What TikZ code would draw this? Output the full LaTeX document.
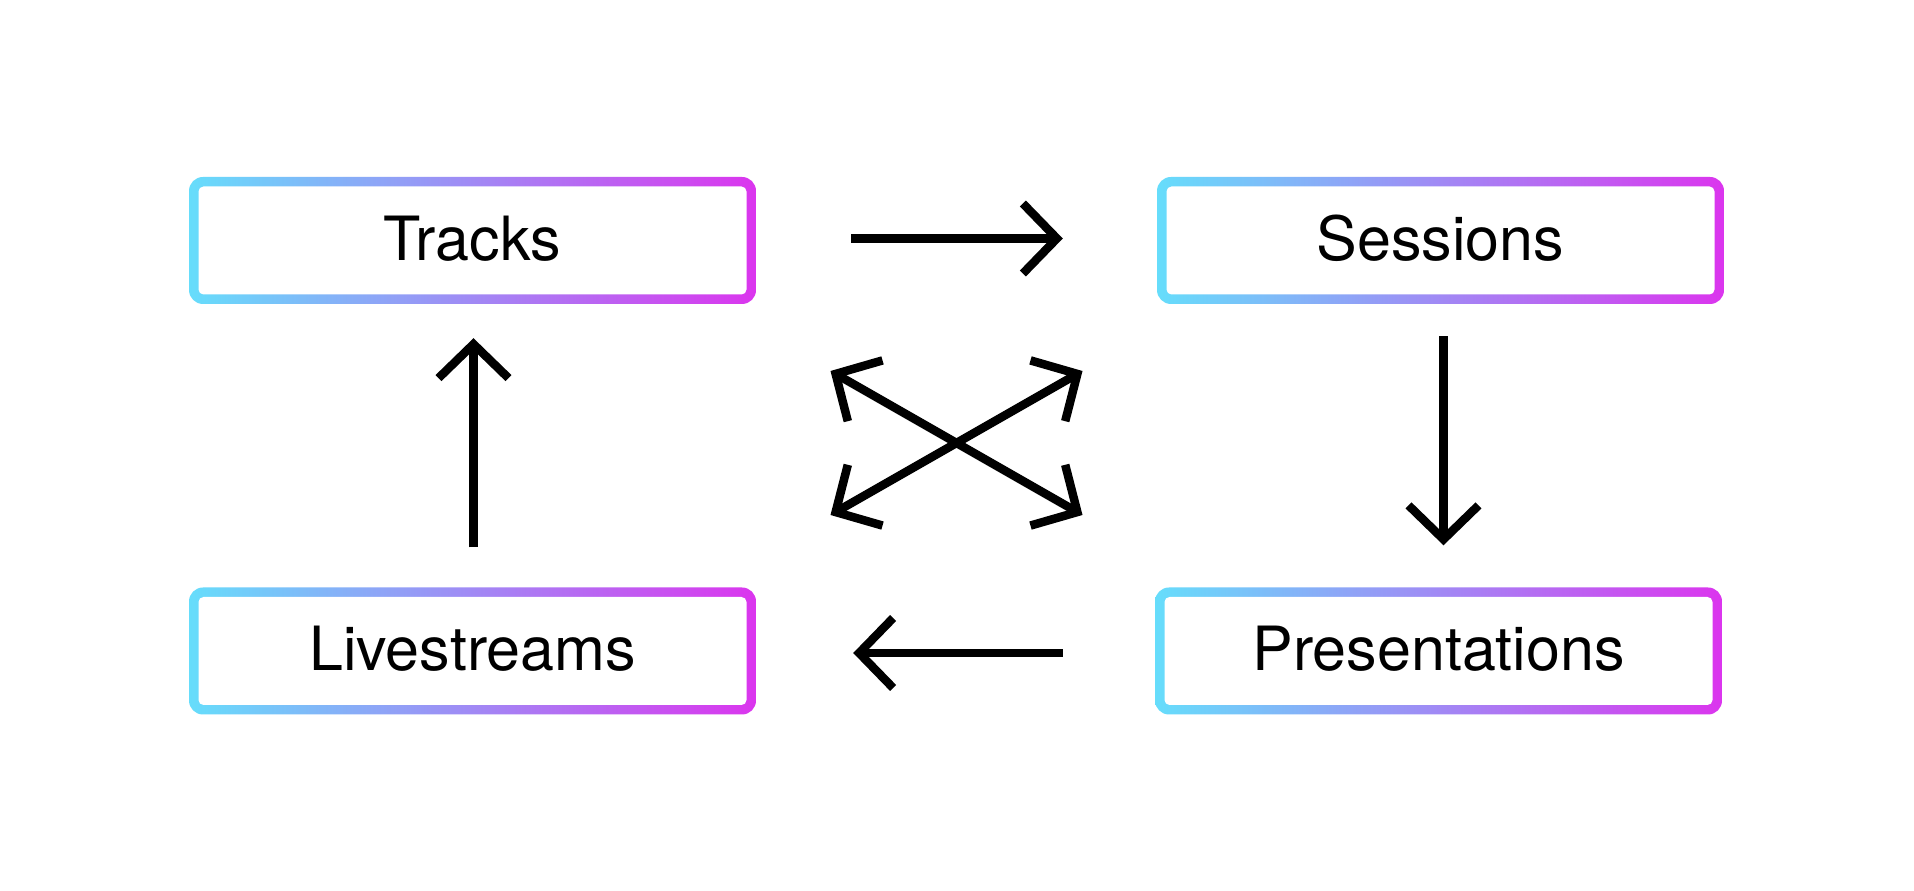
\documentclass[tikz,border=0pt]{standalone}
\usepackage{fontspec}
\setmainfont{TeX Gyre Heros}
\usetikzlibrary{arrows.meta}
\definecolor{cy}{RGB}{102,221,251}
\definecolor{mg}{RGB}{219,53,238}
\tikzset{
  box/.style={rounded corners=14pt, minimum width=567pt, minimum height=127pt,
    inner sep=0pt, left color=cy, right color=mg,
    text height=40pt, text depth=0pt,
    font=\fontsize{61}{70}\selectfont,
    path picture={\fill[white, rounded corners=5pt]
      ([shift={(9.5pt,9.5pt)}]path picture bounding box.south west) rectangle
      ([shift={(-9.5pt,-9.5pt)}]path picture bounding box.north east);}},
  tipb/.tip={Straight Barb[length=34pt, width=70pt]},
  arr/.style={line width=8.5pt, -tipb},
  darr/.style={line width=8.5pt, tipb-tipb}
}
\begin{document}
\begin{tikzpicture}[x=1pt,y=1pt]
\useasboundingbox[fill=white] (0,0) rectangle (1914,891);
\node[box] (T) at (472.5,650.5) {Tracks};
\node[box] (S) at (1440.5,650.5) {Sessions};
\node[box] (L) at (472.5,240) {Livestreams};
\node[box] (P) at (1438.5,240) {Presentations};
\draw[arr] ([xshift=95pt,yshift=2pt]T.east) -- ([xshift=-94pt,yshift=2pt]S.west);
\draw[arr] ([xshift=3pt,yshift=-32pt]S.south) -- ([xshift=3pt,yshift=42pt]S.south |- P.north);
\draw[arr] ([xshift=-92pt,yshift=-2pt]P.west) -- ([xshift=97pt,yshift=-2pt]L.east);
\draw[arr] ([xshift=1pt,yshift=40pt]L.north) -- ([xshift=1pt,yshift=-34pt]T.south);
\coordinate (X) at (956.5,448);
\coordinate (ul) at ([shift={(-126pt,72pt)}]X);
\coordinate (ur) at ([shift={(126pt,72pt)}]X);
\coordinate (ll) at ([shift={(-126pt,-72pt)}]X);
\coordinate (lr) at ([shift={(126pt,-72pt)}]X);
\draw[darr] (ul) -- (lr);
\draw[darr] (ll) -- (ur);
\end{tikzpicture}
\end{document}
